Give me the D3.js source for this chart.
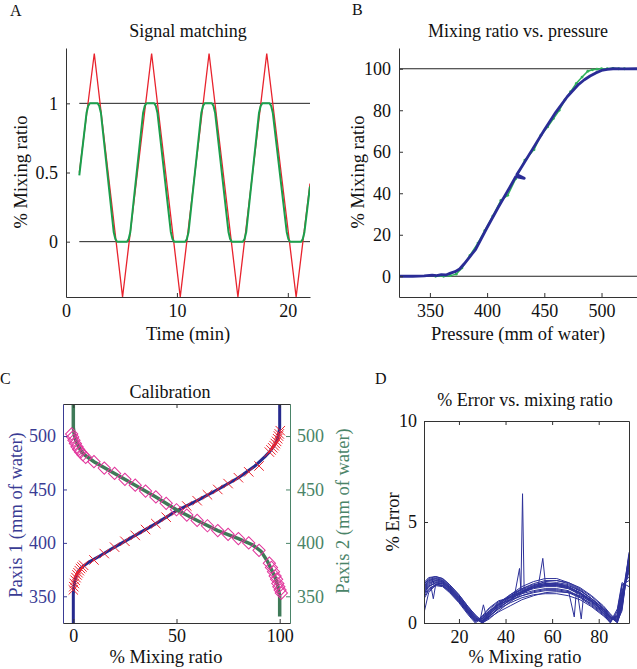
<!DOCTYPE html>
<html>
<head>
<meta charset="utf-8">
<script src="https://cdn.jsdelivr.net/npm/d3@7"></script>
<style>
  body { margin: 0; background: #fff; }
  svg { display: block; }
</style>
</head>
<body>
<svg width="637" height="669"></svg>
<script>
// ---- A: signal matching ----
const redT = [1.2, 2.55, 5.1, 7.72, 10.3, 12.9, 15.5, 18.1, 20.75, 22]
const redV = [0.5, 1.36, -0.4, 1.36, -0.4, 1.36, -0.4, 1.36, -0.4, 0.42]
const greenT = [1.2, 1.85, 2.0, 2.15, 2.85, 3.0, 3.15, 4.3, 4.45, 4.6, 5.5, 5.65, 5.8,
  6.95, 7.1, 7.25, 7.95, 8.1, 8.25, 9.45, 9.6, 9.75, 10.75, 10.9, 11.05,
  12.2, 12.35, 12.5, 13.15, 13.3, 13.45, 14.65, 14.8, 14.95, 15.95, 16.1, 16.25,
  17.4, 17.55, 17.7, 18.35, 18.5, 18.65, 19.9, 20.05, 20.2, 21.2, 21.35, 21.5, 22]
const greenV = [0.48, 0.93, 0.98, 1.0, 1.0, 0.98, 0.93, 0.07, 0.02, 0, 0, 0.02, 0.07,
  0.93, 0.98, 1.0, 1.0, 0.98, 0.93, 0.07, 0.02, 0, 0, 0.02, 0.07,
  0.93, 0.98, 1.0, 1.0, 0.98, 0.93, 0.07, 0.02, 0, 0, 0.02, 0.07,
  0.93, 0.98, 1.0, 1.0, 0.98, 0.93, 0.07, 0.02, 0, 0, 0.02, 0.07, 0.4]
const refA = [0, 1]
const ticksAx = [0, 10, 20]
const ticksAy = [0, 0.5, 1]

// ---- B: mixing ratio vs pressure ----
const blueP = [323, 335, 345, 352, 356, 360, 364, 368, 372, 376, 380, 385, 390, 400, 410, 420, 425, 432.5, 426, 430, 440, 450, 460, 470, 475, 480, 485, 490, 495, 500, 505, 510, 520, 531]
const blueR = [0, 0, 0.2, 0.5, 0.3, 0.8, 0.6, 1.5, 2.2, 3.5, 6, 9.5, 13, 23.5, 33.5, 43, 48, 47.2, 49, 52.5, 61.5, 70.5, 79, 86.5, 89.5, 92.5, 94.7, 96.5, 98, 99.2, 99.7, 100, 99.9, 100]
const grnP = [355, 362, 368, 373, 378, 385, 392, 398, 405, 412, 418, 425, 433, 441, 447, 453, 458, 463, 468, 473, 478, 483, 488, 492, 496, 500, 505, 510, 515, 520]
const grnR = [0, 0, 0.3, 1, 4, 10, 16, 22, 29, 36.5, 39, 47, 56, 61, 68, 72, 76, 80, 85, 89, 93, 96, 98.8, 99.5, 99.8, 100, 100, 100.2, 100, 100]
const refB = [0, 100]
const ticksBx = [350, 400, 450, 500]
const ticksBy = [0, 20, 40, 60, 80, 100]

// ---- C: calibration ----
const p1Mix = [0, 0, 0.2, 0.6, 1.2, 2.2, 3.5, 5, 8, 13, 20, 30, 40, 50, 60, 70, 80, 88, 93, 95, 97, 98.5, 99.5, 100, 100]
const p1Val = [325, 352, 358, 363, 368, 372.5, 376, 378.5, 382.5, 388, 396, 407, 418, 430, 439.5, 450, 461, 472, 481, 485, 490, 495, 502, 508, 530]
const p2Mix = [0, 0, 0.4, 1.2, 2.3, 3.5, 5, 10, 20, 30, 40, 50, 60, 70, 80, 87, 91, 94, 96, 98, 99.2, 100, 100]
const p2Val = [530, 508, 502, 496, 491, 487, 483, 476, 465, 454, 443, 431, 421, 411.5, 404, 398, 392, 383, 375, 367, 359, 350, 331]
const xMix = [0, 0.2, 0.5, 0.9, 1.3, 1.8, 2.3, 2.9, 3.5, 4.2, 5, 10, 15, 20, 25, 30, 35, 40, 45, 50, 55, 60, 65, 70, 75, 80, 85, 90, 95, 95.8, 96.6, 97.3, 97.9, 98.5, 99, 99.4, 99.8, 100.3]
const xVal = [356, 359, 362, 365, 367.5, 370, 372, 374, 376, 377.5, 379, 384, 390, 396, 401.5, 407, 412.5, 418, 424, 430, 434.5, 439.5, 445, 450, 455.5, 461, 466.5, 472, 485, 487, 489, 491, 493, 495, 497.5, 500, 502, 505]
const dMix = [-0.8, -0.3, 0.3, 1, 1.8, 2.6, 3.5, 4.6, 6, 10, 15, 20, 25, 30, 35, 40, 45, 50, 55, 60, 65, 70, 75, 80, 85, 90, 95, 96, 97, 97.8, 98.5, 99.1, 99.6, 100.2, 100.8]
const dVal = [502, 499, 496, 493, 490, 487.5, 485, 482.5, 480, 476, 470, 465, 459.5, 454, 448.5, 443, 437, 431, 426, 421, 416, 411.5, 408, 404, 400, 393, 381, 377, 373, 369, 366, 362, 359, 356, 353]
const ticksCx = [0, 50, 100]
const ticksCy = [350, 400, 450, 500]

// ---- D: % error vs mixing ratio ----
const errX = [5, 7, 10, 13, 16, 20, 24, 27, 30, 33, 37, 42, 47, 52, 57, 62, 67, 72, 77, 82, 85, 88, 90, 93]
const errRuns = [
  [1.9, 2.2, 2.3, 2.2, 1.9, 1.4, 0.8, 0.4, 0.05, 0.4, 0.9, 1.4, 1.8, 2.05, 2.2, 2.2, 2.0, 1.7, 1.3, 0.8, 0.4, 0.1, 0.9, 3.5],
  [1.8, 2.1, 2.2, 2.1, 1.8, 1.3, 0.7, 0.3, 0.0, 0.3, 0.8, 1.3, 1.7, 1.95, 2.1, 2.1, 1.95, 1.65, 1.2, 0.7, 0.3, 0.0, 0.7, 3.2],
  [1.7, 2.0, 2.1, 2.0, 1.7, 1.2, 0.6, 0.2, 0.1, 0.5, 0.95, 1.35, 1.65, 1.85, 1.95, 1.95, 1.8, 1.5, 1.1, 0.6, 0.2, 0.2, 1.2, 3.0],
  [1.6, 1.9, 2.05, 1.95, 1.65, 1.15, 0.55, 0.15, 0.2, 0.6, 1.0, 1.4, 1.7, 1.9, 2.0, 1.9, 1.75, 1.45, 1.05, 0.55, 0.15, 0.3, 1.4, 2.8],
  [1.5, 1.8, 2.0, 1.9, 1.6, 1.1, 0.5, 0.1, 0.3, 0.7, 1.05, 1.3, 1.55, 1.75, 1.85, 1.85, 1.7, 1.4, 1.0, 0.5, 0.1, 0.4, 1.6, 2.6],
  [1.4, 1.7, 1.9, 1.85, 1.55, 1.05, 0.45, 0.05, 0.35, 0.75, 1.1, 1.25, 1.45, 1.6, 1.7, 1.7, 1.6, 1.3, 0.9, 0.45, 0.05, 0.5, 1.8, 2.3],
  [1.2, 1.6, 1.85, 1.8, 1.5, 1.0, 0.4, 0.0, 0.25, 0.6, 0.9, 1.15, 1.35, 1.5, 1.6, 1.6, 1.5, 1.25, 0.85, 0.4, 0.0, 0.6, 1.9, 2.1],
  [0.5, 1.5, 1.9, 2.0, 1.7, 1.2, 0.6, 0.2, 0.0, 0.35, 0.7, 1.0, 1.25, 1.4, 1.45, 1.45, 1.35, 1.15, 0.8, 0.35, 0.05, 0.7, 2.0, 1.8],
  [1.95, 2.15, 2.25, 2.15, 1.85, 1.35, 0.75, 0.35, 0.0, 0.2, 0.6, 1.05, 1.45, 1.75, 1.9, 1.95, 1.85, 1.6, 1.2, 0.75, 0.35, 0.05, 0.8, 3.4],
  [1.65, 1.95, 2.1, 2.05, 1.75, 1.25, 0.65, 0.25, 0.05, 0.45, 0.85, 1.2, 1.5, 1.7, 1.8, 1.8, 1.7, 1.45, 1.1, 0.65, 0.25, 0.15, 1.0, 3.1],
  [1.85, 2.1, 2.2, 2.1, 1.8, 1.3, 0.7, 0.3, 0.0, 0.25, 0.55, 0.85, 1.15, 1.35, 1.5, 1.55, 1.5, 1.35, 1.05, 0.6, 0.25, 0.1, 1.1, 2.9],
  [1.55, 1.85, 1.95, 1.85, 1.55, 1.05, 0.5, 0.1, 0.15, 0.5, 0.9, 1.25, 1.55, 1.8, 1.95, 2.0, 1.9, 1.6, 1.2, 0.7, 0.3, 0.2, 1.3, 3.3],
  [1.75, 2.05, 2.15, 2.05, 1.75, 1.25, 0.65, 0.25, 0.05, 0.35, 0.75, 1.15, 1.5, 1.75, 1.85, 1.85, 1.75, 1.5, 1.15, 0.7, 0.3, 0.05, 0.85, 3.0],
  [1.45, 1.8, 2.0, 1.95, 1.65, 1.15, 0.55, 0.15, 0.1, 0.45, 0.8, 1.1, 1.35, 1.55, 1.65, 1.65, 1.55, 1.3, 0.95, 0.5, 0.1, 0.35, 1.5, 2.5],
  [2.0, 2.25, 2.3, 2.2, 1.9, 1.4, 0.8, 0.4, 0.1, 0.3, 0.7, 1.15, 1.55, 1.85, 2.05, 2.1, 2.0, 1.75, 1.35, 0.85, 0.45, 0.1, 0.6, 3.3],
  [1.3, 1.65, 1.9, 1.85, 1.6, 1.1, 0.5, 0.1, 0.2, 0.55, 0.95, 1.3, 1.6, 1.8, 1.9, 1.9, 1.8, 1.5, 1.1, 0.6, 0.2, 0.3, 1.3, 2.7]
]
const spikeX = [
  [44, 46, 46.6, 47.3, 48, 50],
  [54, 56, 57.2],
  [67, 69.5, 70.5, 72],
  [71, 72.5, 73.5],
  [8, 9, 10],
  [29, 30.5, 32]
]
const spikeY = [
  [1.45, 2.7, 1.6, 6.4, 1.55, 1.7],
  [1.8, 3.2, 1.85],
  [1.6, 0.3, 1.7, 1.5],
  [1.4, 0.2, 1.35],
  [1.8, 1.2, 1.9],
  [0.1, 0.9, 0.2]
]
const ticksDx = [20, 40, 60, 80]
const ticksDy = [0, 5, 10]

const FONT = "'Liberation Serif', 'DejaVu Serif', serif"
const svg = d3.select('svg')

function label (txt, x, y, size, opts = {}) {
  const t = svg.append('text')
    .attr('font-family', FONT)
    .attr('font-size', size)
    .attr('fill', opts.color || '#111')
    .attr('text-anchor', opts.anchor || 'middle')
    .text(txt)
  if (opts.rotate) t.attr('transform', `translate(${x},${y}) rotate(-90)`)
  else t.attr('x', x).attr('y', y)
  return t
}

function styleAxis (sel, color, size) {
  sel.attr('font-family', FONT).attr('font-size', size || 18).attr('color', color || '#333')
  sel.selectAll('text').attr('fill', color || '#111')
}

function clipFor (id, x, y) {
  svg.append('clipPath').attr('id', id).append('rect')
    .attr('x', x.range()[0]).attr('y', y.range()[1])
    .attr('width', x.range()[1] - x.range()[0])
    .attr('height', y.range()[0] - y.range()[1])
  return `url(#${id})`
}

function poly (xs, ys, x, y) {
  return d3.line().x((d, i) => x(xs[i])).y((d, i) => y(ys[i]))(xs)
}

// ================= Panel A =================
{
  const x = d3.scaleLinear().domain([0, 22]).range([66, 310])
  const y = d3.scaleLinear().domain([-0.4, 1.4]).range([297, 48])
  const clip = clipFor('clipA', x, y)

  svg.append('g').selectAll('line').data(refA).join('line')
    .attr('x1', x(redT[0])).attr('x2', x(22))
    .attr('y1', d => y(d)).attr('y2', d => y(d))
    .attr('stroke', '#222').attr('stroke-width', 1)

  svg.append('path').attr('d', poly(redT, redV, x, y)).attr('clip-path', clip)
    .attr('fill', 'none').attr('stroke', '#e8232d').attr('stroke-width', 1.3)
  svg.append('path').attr('d', poly(greenT, greenV, x, y)).attr('clip-path', clip)
    .attr('fill', 'none').attr('stroke', '#1b9f4c').attr('stroke-width', 2)
    .attr('stroke-linejoin', 'round')

  styleAxis(svg.append('g').attr('transform', `translate(66,0)`)
    .call(d3.axisLeft(y).tickValues(ticksAy).tickFormat(d => d).tickSizeInner(-4).tickSizeOuter(0).tickPadding(8)))
  styleAxis(svg.append('g').attr('transform', `translate(0,297)`)
    .call(d3.axisBottom(x).tickValues(ticksAx).tickFormat(d => d).tickSizeInner(-4).tickSizeOuter(0).tickPadding(7)))

  label('A', 10, 16, 16, { anchor: 'start' })
  label('Signal matching', 188, 37, 18)
  label('Time (min)', 188, 340, 18.5)
  label('% Mixing ratio', 27, 172, 18.5, { rotate: true })
}

// ================= Panel B =================
{
  const x = d3.scaleLinear().domain([323, 531]).range([399, 637])
  const y = d3.scaleLinear().domain([-10, 110]).range([297, 48])
  const clip = clipFor('clipB', x, y)

  svg.append('g').selectAll('line').data(refB).join('line')
    .attr('x1', x(323)).attr('x2', x(531))
    .attr('y1', d => y(d)).attr('y2', d => y(d))
    .attr('stroke', '#222').attr('stroke-width', 1)

  svg.append('path').attr('d', poly(grnP, grnR, x, y)).attr('clip-path', clip)
    .attr('fill', 'none').attr('stroke', '#2fb35a').attr('stroke-width', 1.5)
  svg.append('g').attr('clip-path', clip).selectAll('circle').data(grnP).join('circle')
    .attr('cx', d => x(d)).attr('cy', (d, i) => y(grnR[i])).attr('r', 1.4)
    .attr('fill', '#2fb35a')
  svg.append('path').attr('d', poly(blueP, blueR, x, y)).attr('clip-path', clip)
    .attr('fill', 'none').attr('stroke', '#2a2c96').attr('stroke-width', 2.8)
    .attr('stroke-linejoin', 'round')

  styleAxis(svg.append('g').attr('transform', `translate(399,0)`)
    .call(d3.axisLeft(y).tickValues(ticksBy).tickFormat(d => d).tickSizeInner(-4).tickSizeOuter(0).tickPadding(8)))
  styleAxis(svg.append('g').attr('transform', `translate(0,297)`)
    .call(d3.axisBottom(x).tickValues(ticksBx).tickFormat(d => d).tickSizeInner(-4).tickSizeOuter(0).tickPadding(7)))

  label('B', 352, 15, 16, { anchor: 'start' })
  label('Mixing ratio vs. pressure', 518, 37, 18)
  label('Pressure (mm of water)', 518, 340, 18.5)
  label('% Mixing ratio', 364, 172, 18.5, { rotate: true })
}

// ================= Panel C =================
{
  const x = d3.scaleLinear().domain([-5, 105]).range([63, 290])
  const y = d3.scaleLinear().domain([325, 530]).range([623, 404])
  const clip = clipFor('clipC', x, y)
  const blueC = '#3a3c94'
  const greenC = '#4a8468'

  svg.append('path').attr('d', poly(p1Mix, p1Val, x, y)).attr('clip-path', clip)
    .attr('fill', 'none').attr('stroke', '#262a8e').attr('stroke-width', 3)
  svg.append('g').attr('clip-path', clip).selectAll('path').data(xMix).join('path')
    .attr('transform', (d, i) => `translate(${x(d)},${y(xVal[i])})`)
    .attr('d', d3.symbol(d3.symbolTimes, 60))
    .attr('fill', 'none').attr('stroke', '#ec2430').attr('stroke-width', 1)

  svg.append('path').attr('d', poly(p2Mix, p2Val, x, y)).attr('clip-path', clip)
    .attr('fill', 'none').attr('stroke', '#3f7a58').attr('stroke-width', 3.5)
  svg.append('g').attr('clip-path', clip).selectAll('path').data(dMix).join('path')
    .attr('transform', (d, i) => `translate(${x(d)},${y(dVal[i])}) rotate(45)`)
    .attr('d', d3.symbol(d3.symbolSquare, 75))
    .attr('fill', 'none').attr('stroke', '#e2369c').attr('stroke-width', 1)

  styleAxis(svg.append('g').attr('transform', `translate(63,0)`)
    .call(d3.axisLeft(y).tickValues(ticksCy).tickFormat(d => d).tickSizeInner(-4).tickSizeOuter(0).tickPadding(7)), blueC)
  styleAxis(svg.append('g').attr('transform', `translate(290,0)`)
    .call(d3.axisRight(y).tickValues(ticksCy).tickFormat(d => d).tickSizeInner(-4).tickSizeOuter(0).tickPadding(7)), greenC)
  styleAxis(svg.append('g').attr('transform', `translate(0,623)`)
    .call(d3.axisBottom(x).tickValues(ticksCx).tickFormat(d => d).tickSizeInner(-4).tickSizeOuter(0).tickPadding(6)))
  styleAxis(svg.append('g').attr('transform', `translate(0,404)`)
    .call(d3.axisTop(x).tickValues(ticksCx).tickFormat('').tickSizeInner(-4).tickSizeOuter(0)))

  label('C', 0, 384, 16, { anchor: 'start' })
  label('Calibration', 170, 398, 18)
  label('% Mixing ratio', 166, 663, 18.5)
  label('Paxis 1 (mm of water)', 22, 515, 18.5, { rotate: true, color: blueC })
  label('Paxis 2 (mm of water)', 349, 511, 18.5, { rotate: true, color: greenC })
}

// ================= Panel D =================
{
  const x = d3.scaleLinear().domain([5, 93]).range([424, 629])
  const y = d3.scaleLinear().domain([0, 10]).range([623, 421])
  const clip = clipFor('clipD', x, y)
  const g = svg.append('g').attr('clip-path', clip)
    .attr('fill', 'none').attr('stroke', '#2d3199').attr('stroke-width', 1)

  errRuns.forEach(run => {
    g.append('path').attr('d', poly(errX, run, x, y))
  })
  spikeX.forEach((xs, k) => {
    g.append('path').attr('d', poly(xs, spikeY[k], x, y))
  })

  styleAxis(svg.append('g').attr('transform', `translate(424,0)`)
    .call(d3.axisLeft(y).tickValues(ticksDy).tickFormat(d => d).tickSizeInner(-4).tickSizeOuter(0).tickPadding(7)))
  styleAxis(svg.append('g').attr('transform', `translate(629,0)`)
    .call(d3.axisRight(y).tickValues(ticksDy).tickFormat('').tickSizeInner(-4).tickSizeOuter(0)))
  styleAxis(svg.append('g').attr('transform', `translate(0,623)`)
    .call(d3.axisBottom(x).tickValues(ticksDx).tickFormat(d => d).tickSizeInner(-4).tickSizeOuter(0).tickPadding(7)))
  styleAxis(svg.append('g').attr('transform', `translate(0,421)`)
    .call(d3.axisTop(x).tickValues(ticksDx).tickFormat('').tickSizeInner(-4).tickSizeOuter(0)))

  label('D', 375, 384, 16, { anchor: 'start' })
  label('% Error vs. mixing ratio', 525, 406, 18)
  label('% Mixing ratio', 525, 663, 18.5)
  label('% Error', 399, 522, 18.5, { rotate: true })
}
</script>
</body>
</html>
